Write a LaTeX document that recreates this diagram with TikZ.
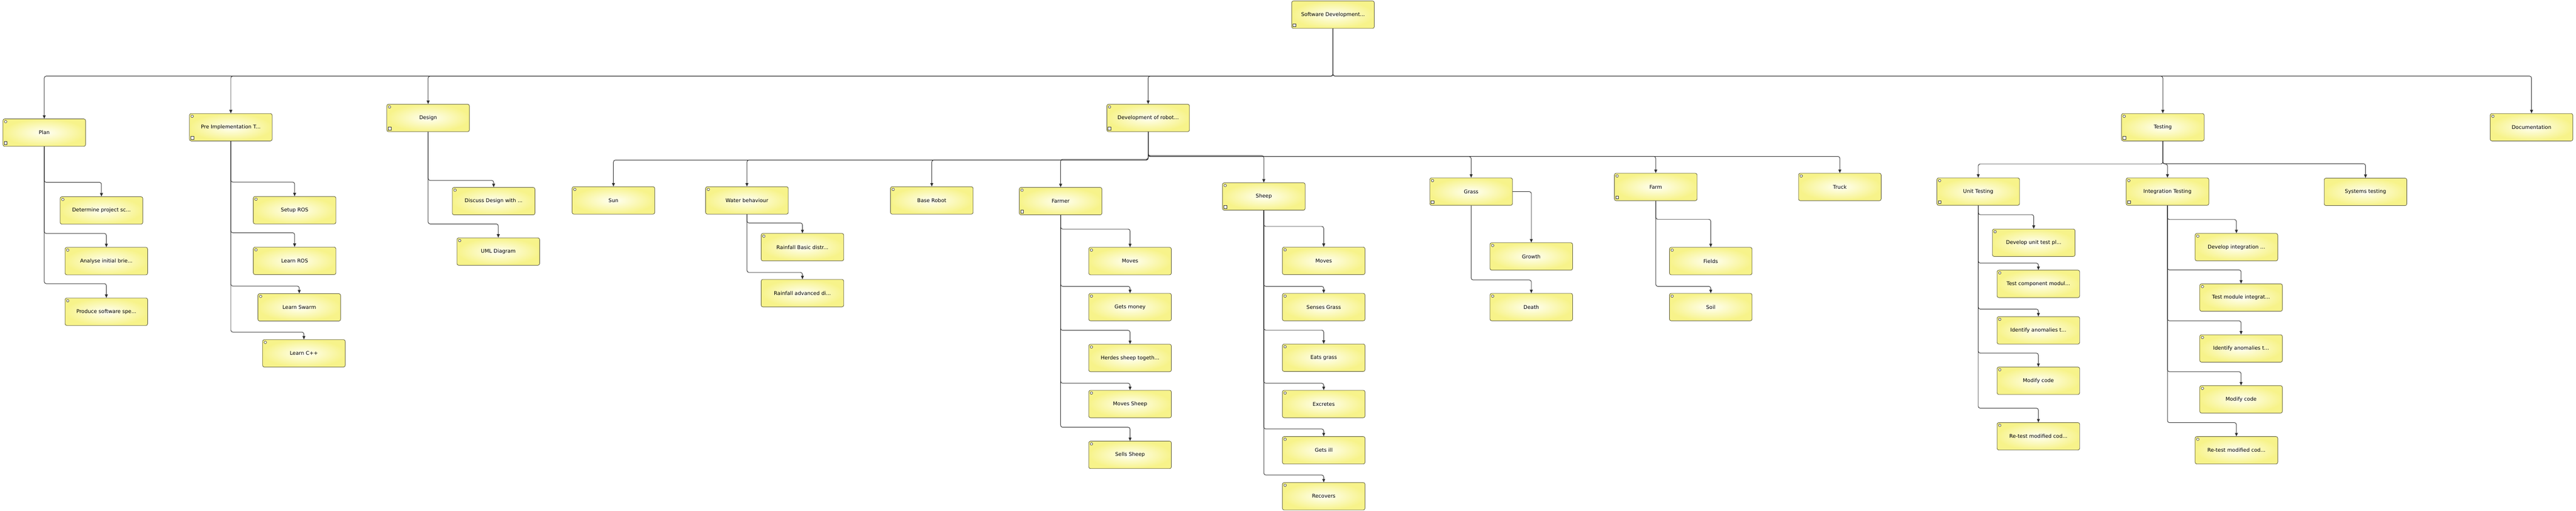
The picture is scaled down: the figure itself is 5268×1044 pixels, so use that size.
\documentclass[tikz,border=0pt]{standalone}
\usepackage{fontspec}
\setmainfont{DejaVu Sans}
\usetikzlibrary{positioning,arrows.meta}

\definecolor{boxline}{HTML}{5C5A3A}
\definecolor{boxouter}{HTML}{F7F38A}
\definecolor{boxinner}{HTML}{FFFFF4}
\definecolor{linkcol}{HTML}{2E2E2E}

\tikzset{
  task/.style={draw=boxline, line width=0.9pt, rounded corners=3.5pt,
    inner color=boxinner, outer color=boxouter,
    minimum width=169pt, minimum height=56pt, inner sep=0pt,
    font=\fontsize{10.5}{12}\selectfont},
  link/.style={draw=linkcol, line width=1pt, rounded corners=4pt,
    -{Triangle[length=7pt,width=6pt]}},
  boxmark/.style={draw=black!80, line width=0.7pt, fill=white}
}

\begin{document}
\begin{tikzpicture}[x=1pt,y=-1pt,on grid]
\useasboundingbox (0,0) rectangle (5268,1044);

% top levels
\node[task] (root) at (2726,30) {Software Development...};
\node[task] (plan) at (90.5,271) {Plan};
\node[task] (preimpl) at (472,260) {Pre Implementation T...};
\node[task] (design) at (875.5,241) {Design};
\node[task] (devel) at (2348,241) {Development of robot...};
\node[task] (testing) at (4423,260) {Testing};
\node[task] (docu) at (5177,260) {Documentation};

% plan
\node[task] (determine) at (207.5,430) {Determine project sc...};
\node[task] (analyse) [below right=103.5pt and 10pt of determine] {Analyse initial brie...};
\node[task] (produce) [below=103.5pt of analyse] {Produce software spe...};

% pre implementation
\node[task] (setupros) at (602.5,429.5) {Setup ROS};
\node[task] (learnros) [below=103.5pt of setupros] {Learn ROS};
\node[task] (learnswarm) [below right=95pt and 9.5pt of learnros] {Learn Swarm};
\node[task] (learncpp) [below right=94pt and 9.5pt of learnswarm] {Learn C++};

% design
\node[task] (discuss) at (1009.5,411) {Discuss Design with ...};
\node[task] (uml) [below right=103pt and 9.5pt of discuss] {UML Diagram};

% development of robot
\node[task] (sun) at (1254.5,409.5) {Sun};
\node[task] (water) at (1527.5,409.5) {Water behaviour};
\node[task] (baserobot) at (1905.5,409.5) {Base Robot};
\node[task] (farmer) at (2169,411) {Farmer};
\node[task] (sheep) at (2584.5,401.5) {Sheep};
\node[task] (grass) at (3008.5,391.5) {Grass};
\node[task] (farm) at (3386,382) {Farm};
\node[task] (truck) at (3762.5,382) {Truck};

\node[task] (rainbasic) at (1641,505) {Rainfall Basic distr...};
\node[task] (rainadv) [below=94pt of rainbasic] {Rainfall advanced di...};

\node[task] (fmoves) at (2311,533.5) {Moves};
\node[task] (fmoney) [below=94pt of fmoves] {Gets money};
\node[task] (fherd) [below=104pt of fmoney] {Herdes sheep togeth...};
\node[task] (fmovesheep) [below=94pt of fherd] {Moves Sheep};
\node[task] (fsells) [below=104pt of fmovesheep] {Sells Sheep};

\node[task] (smoves) at (2707,533) {Moves};
\node[task] (ssenses) [below=94.5pt of smoves] {Senses Grass};
\node[task] (seats) [below=103.5pt of ssenses] {Eats grass};
\node[task] (sexcretes) [below=94.5pt of seats] {Excretes};
\node[task] (sill) [below=94.5pt of sexcretes] {Gets ill};
\node[task] (srecovers) [below=94pt of sill] {Recovers};

\node[task] (growth) at (3131.5,524) {Growth};
\node[task] (death) [below=103.5pt of growth] {Death};

\node[task] (fields) at (3498.5,533.5) {Fields};
\node[task] (soil) [below=94pt of fields] {Soil};

% testing
\node[task] (unit) at (4045.5,391.5) {Unit Testing};
\node[task] (integ) at (4432.5,391.5) {Integration Testing};
\node[task] (systems) at (4837.5,392) {Systems testing};

\node[task] (udevelop) at (4159,496) {Develop unit test pl...};
\node[task] (ucomponent) [below right=84pt and 9.5pt of udevelop] {Test component modul...};
\node[task] (uidentify) [below=95pt of ucomponent] {Identify anomalies t...};
\node[task] (umodify) [below=103pt of uidentify] {Modify code};
\node[task] (uretest) [below=113.5pt of umodify] {Re-test modified cod...};

\node[task] (idevelop) at (4573.5,505) {Develop integration ...};
\node[task] (imodule) [below right=103pt and 9.5pt of idevelop] {Test module integrat...};
\node[task] (iidentify) [below=104pt of imodule] {Identify anomalies t...};
\node[task] (imodify) [below=104pt of iidentify] {Modify code};
\node[task] (iretest) [below left=104pt and 9.5pt of imodify] {Re-test modified cod...};

% connectors: parent / child / gap above the child
\foreach \p/\c/\g in {root/plan/87, root/preimpl/76, root/design/57, root/devel/57,
    root/testing/76, root/docu/76,
    plan/determine/29, plan/analyse/28, plan/produce/29,
    preimpl/setupros/29, preimpl/learnros/29, preimpl/learnswarm/15, preimpl/learncpp/15,
    design/discuss/14, design/uml/28,
    devel/sun/54, devel/water/54, devel/baserobot/54, devel/farmer/57,
    devel/sheep/55, devel/grass/43, devel/farm/34, devel/truck/34,
    water/rainbasic/21, water/rainadv/14,
    farmer/fmoves/37, farmer/fmoney/14, farmer/fherd/28, farmer/fmovesheep/14, farmer/fsells/28,
    sheep/smoves/42, sheep/ssenses/14, sheep/seats/28, sheep/sexcretes/14, sheep/sill/15, sheep/srecovers/15,
    grass/death/27,
    farm/fields/57, farm/soil/14,
    testing/unit/28, testing/integ/28, testing/systems/29,
    unit/udevelop/29, unit/ucomponent/14, unit/uidentify/15, unit/umodify/28, unit/uretest/29,
    integ/idevelop/28, integ/imodule/28, integ/iidentify/28, integ/imodify/28, integ/iretest/28}
  \draw[link] (\p.south) |- ([yshift=\g pt]\c.north) -- (\c.north);
\draw[link] (grass.east) -| (growth.north);

% small symbols in the boxes
\foreach \n in {plan,preimpl,design,devel,testing,docu,determine,analyse,produce,
    setupros,learnros,learnswarm,learncpp,discuss,uml,sun,water,baserobot,farmer,
    sheep,grass,farm,truck,rainbasic,fmoves,fmoney,fherd,fmovesheep,fsells,
    smoves,ssenses,seats,sexcretes,sill,srecovers,growth,death,fields,soil,
    unit,integ,udevelop,ucomponent,uidentify,umodify,uretest,
    idevelop,imodule,iidentify,imodify,iretest}
  \draw[boxmark] ([shift={(6pt,-6pt)}]\n.north west) circle[radius=2.6pt];
\foreach \n in {root,plan,preimpl,design,devel,farmer,sheep,grass,farm,testing,unit,integ}
  \draw[boxmark] ([shift={(3pt,4pt)}]\n.south west) rectangle ++(6pt,6pt);
\end{tikzpicture}
\end{document}
